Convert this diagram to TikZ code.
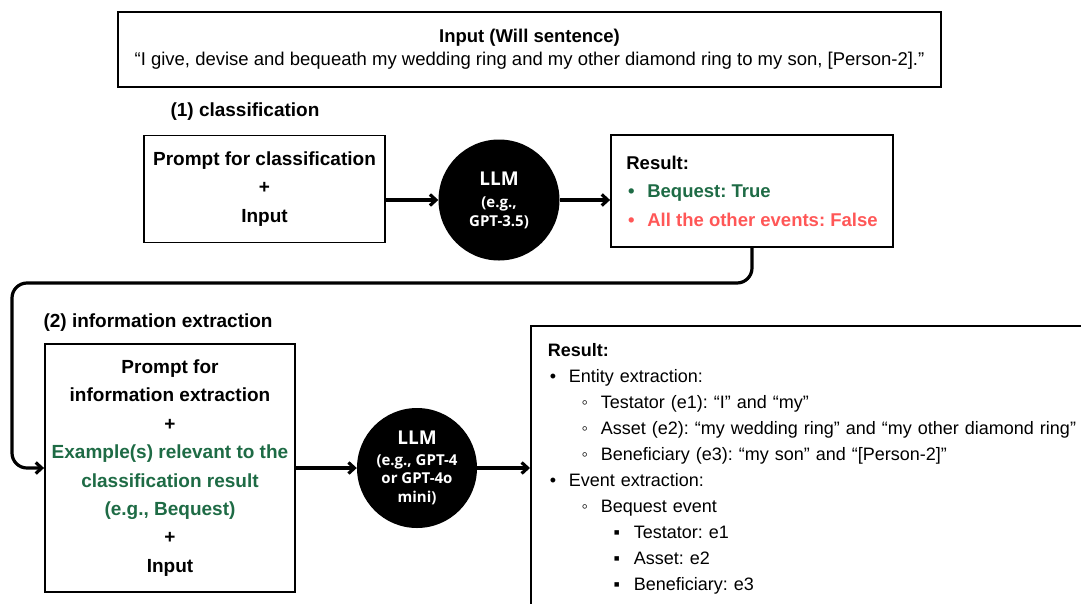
\documentclass[tikz,border=0pt]{standalone}
\usepackage{fontspec}
\setmainfont{Liberation Sans}
\newfontfamily\llmfont{Open Sans}
\usetikzlibrary{arrows.meta}
\frenchspacing

\definecolor{exgreen}{HTML}{1E6B45}
\definecolor{falsered}{HTML}{FF5757}

\newcommand{\lvlone}{\makebox[10pt]{\textbullet}\hspace*{11pt}}
\newcommand{\lvltwo}{\hspace*{32pt}\makebox[10pt]{◦}\hspace*{11pt}}
\newcommand{\lvlthree}{\hspace*{64pt}\makebox[10pt]{▪}\hspace*{12pt}}

\begin{document}
\begin{tikzpicture}[x=1pt,y=-1pt,
  box/.style={draw=black, line width=1.8pt, inner sep=0pt, align=center},
  boldtext/.style={font=\bfseries\fontsize{19}{28.4}\selectfont},
  llm/.style={circle, fill=black, text=white, inner sep=0pt, align=center,
    font=\llmfont\bfseries\fontsize{15}{18.5}\selectfont},
  flow/.style={line width=3.2pt, -{Straight Barb[length=6pt,width=11pt]}}]

 \useasboundingbox (0,0) rectangle (1081,603);
 \clip (0,0) rectangle (1081,603);

 % input sentence
 \node[box, minimum width=823pt, minimum height=75pt, font=\fontsize{18.5}{23}\selectfont] (input) at (529.5,49.5)
  {{\bfseries Input (Will sentence)}\\“I give, devise and bequeath my wedding ring and my other diamond ring to my son, [Person-2].”};

 % (1) classification
 \node[anchor=west, font=\bfseries\fontsize{19}{23}\selectfont] (step1) at (167,112) {(1) classification};
 \node[box, boldtext, minimum width=241pt, minimum height=107pt] (cls) at (264.5,189) {Prompt for classification\\+\\Input};
 \node[llm, minimum size=121pt] (llm1) at (499,200) {{\fontsize{19}{21}\selectfont LLM}\\[4pt](e.g.,\\GPT-3.5)};
 \node[box, align=left, minimum width=282pt, minimum height=112pt,
   font=\bfseries\fontsize{18.5}{28.5}\selectfont] (res1) at (752,191)
  {Result:\\\color{exgreen}\lvlone Bequest: True\\\color{falsered}\lvlone All the other events: False};

 \draw[flow] (cls.east |- llm1) -- (llm1);
 \draw[flow] (llm1) -- (llm1 -| res1.west);

 % (2) information extraction
 \node[anchor=west, font=\bfseries\fontsize{19}{23}\selectfont] (step2) at (40,323) {(2) information extraction};
 \node[box, boldtext, minimum width=250pt, minimum height=248pt] (ie) at (170,468)
  {Prompt for\\information extraction\\+\\\color{exgreen}Example(s) relevant to the\\\color{exgreen}classification result\\\color{exgreen}(e.g., Bequest)\\+\\Input};
 \node[llm, minimum size=120pt] (llm2) at (417,468) {{\fontsize{19}{21}\selectfont LLM}\\[2pt](e.g., GPT-4\\or GPT-4o\\mini)};
 \node[box, anchor=north west, align=left, text width=560pt, inner xsep=17pt, inner ysep=18pt,
   font=\fontsize{18}{26}\selectfont] (res2) at (530,325)
  {\textbf{Result:}\\
   \lvlone Entity extraction:\\
   \lvltwo Testator (e1): “I” and “my”\\
   \lvltwo Asset (e2): “my wedding ring” and “my other diamond ring”\\
   \lvltwo Beneficiary (e3): “my son” and “[Person-2]”\\
   \lvlone Event extraction:\\
   \lvltwo Bequest event\\
   \lvlthree Testator: e1\\
   \lvlthree Asset: e2\\
   \lvlthree Beneficiary: e3\rule[-40pt]{0pt}{1pt}};

 \coordinate (bend) at (12,283);
 \draw[flow, rounded corners=15pt] (res1.south) |- (bend) |- (ie.west);
 \draw[flow] (ie) -- (llm2);
 \draw[flow] (llm2) -- (llm2 -| res2.west);

\end{tikzpicture}
\end{document}
